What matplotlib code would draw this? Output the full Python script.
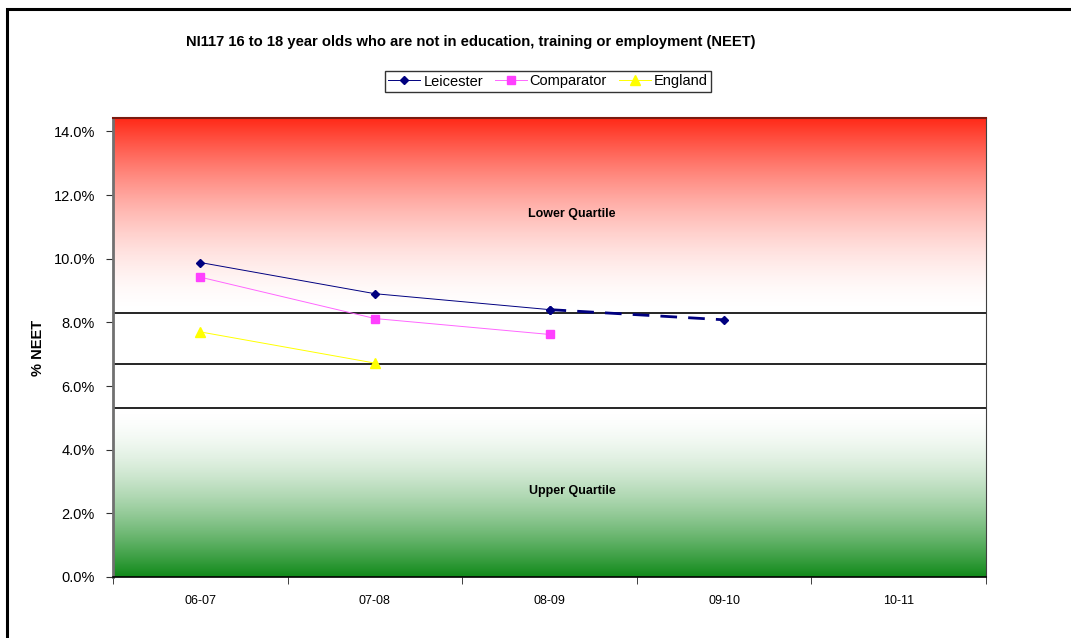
import numpy as np
import matplotlib
matplotlib.use("Agg")
import matplotlib.pyplot as plt
from matplotlib.patches import Rectangle
from matplotlib.ticker import FuncFormatter, FixedLocator
from matplotlib.colors import LinearSegmentedColormap

plt.rcParams['font.family'] = ['Liberation Sans', 'DejaVu Sans']

# NEET rates (%) by year
years = ['06-07', '07-08', '08-09', '09-10', '10-11']
leicester = [9.88, 8.90, 8.40, 8.08]        # last value is the target
comparator = [9.42, 8.12, 7.62]
england = [7.70, 6.72]

# quartile boundaries (%)
lower_quartile = 8.30
median = 6.68
upper_quartile = 5.30
y_top = 14.42

fig = plt.figure(figsize=(10.71, 6.38), dpi=100)
ax = fig.add_axes([113/1071, 1 - 577/638, (986 - 113)/1071, (577 - 118)/638])

x = np.arange(1, len(years) + 1)
ax.set_xlim(0.5, len(years) + 0.5)
ax.set_ylim(0, y_top)

# shaded quartile bands, fading faster towards the white middle
reds = LinearSegmentedColormap.from_list('reds', ['#ffffff', '#ff2a18'], gamma=1.0)
greens = LinearSegmentedColormap.from_list('greens', ['#118a1a', '#ffffff'])
t = np.linspace(0, 1, 256).reshape(-1, 1)
ax.imshow(t ** 1.7, cmap=reds, origin='lower', aspect='auto', vmin=0, vmax=1,
          extent=(0.5, len(years) + 0.5, lower_quartile, y_top), zorder=0)
ax.imshow(1 - (1 - t) ** 1.7, cmap=greens, origin='lower', aspect='auto',
          vmin=0, vmax=1,
          extent=(0.5, len(years) + 0.5, 0, upper_quartile), zorder=0)
for q in [lower_quartile, median, upper_quartile]:
    ax.axhline(q, color='black', lw=1.2, zorder=1)

ax.text(3.13, 11.4, 'Lower Quartile', fontsize=9, fontweight='bold',
        ha='center', va='center')
ax.text(3.13, 2.7, 'Upper Quartile', fontsize=9, fontweight='bold',
        ha='center', va='center')

# series
l1, = ax.plot(x[:3], leicester[:3], color='#000080', lw=0.7, marker='D',
              ms=4.5, zorder=3)
ax.plot(x[2:4], leicester[2:4], color='#000080', lw=2, dashes=(6, 4),
        marker='D', ms=4.5, zorder=3)
l2, = ax.plot(x[:3], comparator, color='#ff66ff', lw=0.7, marker='s', ms=6,
              mfc='#ff40ff', mec='#ff40ff', zorder=3)
l3, = ax.plot(x[:2], england, color='#ffff00', lw=0.7, marker='^', ms=7,
              mfc='#ffff00', mec='#ffff00', zorder=3)

# axes styling
ax.yaxis.set_major_locator(FixedLocator(np.arange(0, 15, 2)))
ax.yaxis.set_major_formatter(FuncFormatter(lambda v, p: f'{v:.1f}%'))
ax.set_xticks(x)
ax.set_xticklabels(years, fontsize=9)
ax.set_xticks(np.arange(0.5, len(years) + 1), minor=True)
ax.tick_params(axis='x', which='major', length=0, pad=13)
ax.tick_params(axis='x', which='minor', length=5, color='#202020')
ax.tick_params(axis='y', length=5, color='#303030', labelsize=10.5, pad=8)
ax.spines['left'].set_color('#707070')
ax.spines['left'].set_linewidth(2)
ax.spines['bottom'].set_linewidth(1.2)
ax.spines['top'].set_color('#7a1a10')
ax.spines['top'].set_linewidth(1.5)
ax.spines['right'].set_color('#404040')

ax.set_ylabel('% NEET', fontsize=10.5, fontweight='bold', labelpad=6)

fig.text(471/1071, 1 - 42/638,
         'NI117 16 to 18 year olds who are not in education, training or employment (NEET)',
         fontsize=10.6, fontweight='bold', ha='center', va='center')

leg = fig.legend([l1, l2, l3], ['Leicester', 'Comparator', 'England'],
                 loc='center', bbox_to_anchor=(548/1071, 1 - 81.5/638),
                 ncol=3, fontsize=10.5, frameon=True, fancybox=False,
                 edgecolor='black', handlelength=2.2, handletextpad=0.2,
                 columnspacing=0.8, borderpad=0.25)
leg.get_frame().set_linewidth(1)

# outer frame, only its top and left edges fall inside the image
fig.patches.append(Rectangle((7/1071, -0.2), 1.3, 1.2 - 9/638,
                             transform=fig.transFigure, fill=False,
                             edgecolor='black', lw=2.2))

fig.savefig('out.png', dpi=100)
